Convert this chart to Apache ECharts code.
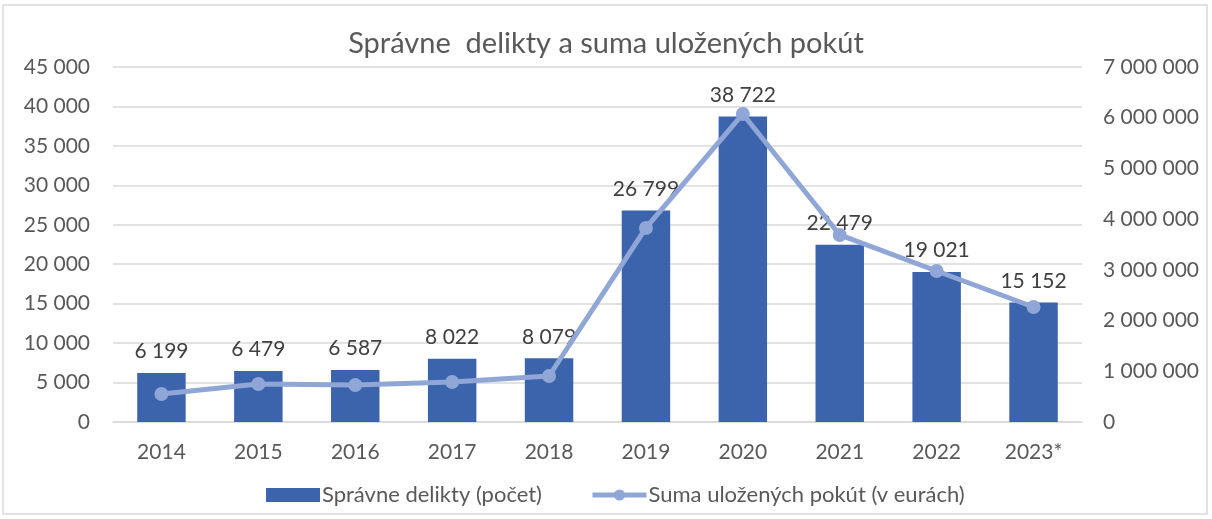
<!DOCTYPE html>
<html>
<head>
    <meta charset="utf-8">
    <title>Správne delikty</title>
    <script src="https://cdn.jsdelivr.net/npm/echarts@6/dist/echarts.min.js"></script>
    <style>
        body { margin: 0; background: #fff; }
    </style>
</head>
<body>
    <div id="chart" style="width: 1212px; height: 519px;"></div>

    <script type="text/javascript">
        var years = ['2014', '2015', '2016', '2017', '2018', '2019', '2020', '2021', '2022', '2023*'];
        var delikty = [6199, 6479, 6587, 8022, 8079, 26799, 38722, 22479, 19021, 15152];
        var pokuty = [552000, 749000, 730000, 789000, 907000, 3826000, 6074000, 3688000, 2978000, 2268000];

        function fmt(v) {
            return String(v).replace(/\B(?=(\d{3})+(?!\d))/g, ' ');
        }

        var chart = echarts.init(document.getElementById('chart'));
        var textColor = '#595959';
        var font = 'Lato, "Open Sans", sans-serif';

        chart.setOption({
            animation: false,
            textStyle: { fontFamily: font },
            graphic: [{
                type: 'rect',
                shape: { x: 3, y: 5, width: 1204, height: 509 },
                style: { fill: 'none', stroke: '#d9d9d9', lineWidth: 1.5 }
            }],
            title: {
                text: 'Správne  delikty a suma uložených pokút',
                left: 'center',
                top: 24,
                textStyle: { fontFamily: font, fontSize: 29, fontWeight: 'normal', color: textColor }
            },
            legend: {
                top: 479,
                left: 261,
                itemGap: 48,
                itemWidth: 54,
                itemHeight: 14,
                textStyle: { fontFamily: font, fontSize: 22, color: textColor, padding: [0, 0, 0, -3] },
                data: [
                    { name: 'Správne delikty (počet)', icon: 'rect' },
                    { name: 'Suma uložených pokút (v eurách)', lineStyle: { width: 5 } }
                ]
            },
            grid: { left: 113, right: 130, top: 67, bottom: 97 },
            xAxis: {
                type: 'category',
                data: years,
                axisTick: { show: false },
                axisLine: { lineStyle: { color: '#d9d9d9', width: 1.5 } },
                axisLabel: { color: textColor, fontSize: 21, margin: 20 }
            },
            yAxis: [{
                type: 'value',
                min: 0,
                max: 45000,
                interval: 5000,
                axisLabel: { color: textColor, fontSize: 21, margin: 23, formatter: fmt },
                splitLine: { lineStyle: { color: '#d9d9d9', width: 1.5 } }
            }, {
                type: 'value',
                min: 0,
                max: 7000000,
                interval: 1000000,
                position: 'right',
                axisLabel: { color: textColor, fontSize: 21, margin: 21, formatter: fmt },
                splitLine: { show: false }
            }],
            series: [{
                name: 'Správne delikty (počet)',
                type: 'bar',
                data: delikty,
                barWidth: '50%',
                itemStyle: { color: '#3b64ad' },
                label: {
                    show: true,
                    position: 'top',
                    distance: 11,
                    color: '#404040',
                    fontSize: 21,
                    formatter: function (p) { return fmt(p.value); }
                }
            }, {
                name: 'Suma uložených pokút (v eurách)',
                type: 'line',
                yAxisIndex: 1,
                data: pokuty,
                symbol: 'circle',
                symbolSize: 14,
                lineStyle: { color: '#8fa6d6', width: 5 },
                itemStyle: { color: '#8fa6d6' }
            }]
        });
    </script>
</body>
</html>
